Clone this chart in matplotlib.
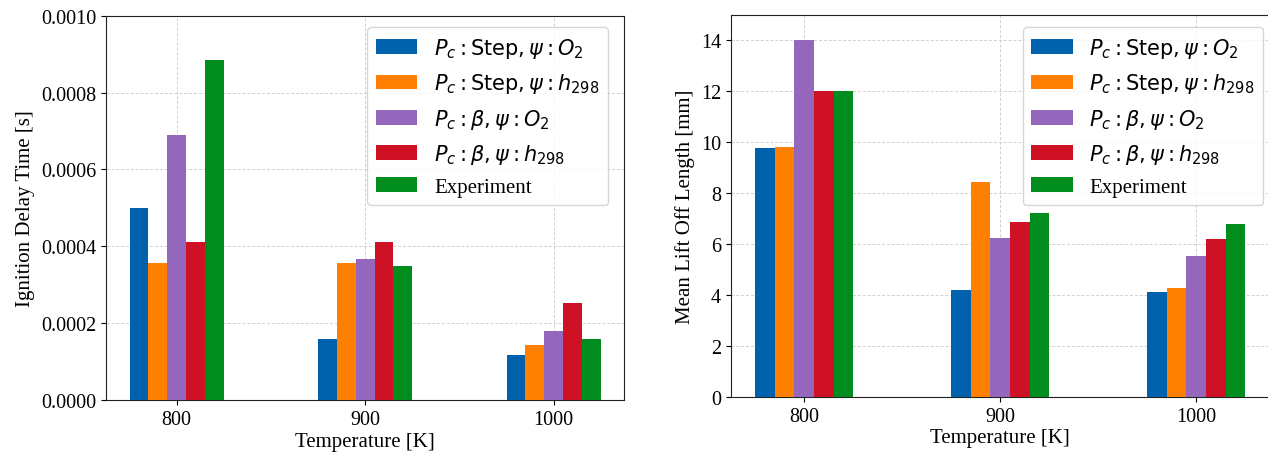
import numpy as np
import matplotlib
matplotlib.use('Agg')
import matplotlib.pyplot as plt

# Data
temperatures = [800, 900, 1000]
labels = [r'$P_c: \mathrm{Step}, \psi: O_2$',
          r'$P_c: \mathrm{Step}, \psi: h_{298}$',
          r'$P_c: \beta, \psi: O_2$',
          r'$P_c: \beta, \psi: h_{298}$',
          'Experiment']
colors = ['#0062AD', '#FF7F00', '#9467BD', '#CF1126', '#008C1F']

ignition_step_o2 = [0.000500, 0.000160, 0.000117]
ignition_step_h298 = [0.000357, 0.000357, 0.000143]
ignition_beta_o2 = [0.000689, 0.000368, 0.000180]
ignition_beta_h298 = [0.000411, 0.000411, 0.000252]
ignition_experiment = [0.000886, 0.000348, 0.000160]

liftoff_step_o2 = [9.76, 4.20, 4.14]
liftoff_step_h298 = [9.80, 8.46, 4.29]
liftoff_beta_o2 = [14.0, 6.26, 5.52]
liftoff_beta_h298 = [12.03, 6.87, 6.20]
liftoff_experiment = [12.03, 7.24, 6.80]

plt.rcParams['font.family'] = ['Liberation Serif', 'DejaVu Serif']
plt.rcParams['mathtext.fontset'] = 'dejavusans'


def draw_bars(ax, series, ylabel):
    """Grouped bars, five per temperature."""
    x = np.array(temperatures, dtype=float)
    width = 10
    offsets = [-20, -10, 0, 10, 20]
    for vals, off, col, lab in zip(series, offsets, colors, labels):
        ax.bar(x + off, vals, width=width, color=col, label=lab, zorder=3)
    ax.set_xticks(temperatures)
    ax.set_xlim(762.5, 1037.5)
    ax.grid(True, linestyle=(0, (3, 2)), color='#cfcfcf', linewidth=0.7, zorder=0)
    ax.set_axisbelow(True)
    ax.set_xlabel('Temperature [K]', fontsize=15, labelpad=2)
    ax.set_ylabel(ylabel, fontsize=15)
    ax.tick_params(labelsize=14.5)
    for s in ax.spines.values():
        s.set_color('#222222')


fig = plt.figure(figsize=(12.68, 4.56), dpi=100)

ax1 = fig.add_axes([0.0836, 0.1206, 0.4088, 0.8428])
draw_bars(ax1, [ignition_step_o2, ignition_step_h298, ignition_beta_o2,
                ignition_beta_h298, ignition_experiment],
          'Ignition Delay Time [s]')
ax1.set_ylim(0, 0.001)
ax1.set_yticks(np.arange(0, 0.00101, 0.0002))
ax1.yaxis.set_major_formatter(plt.FuncFormatter(lambda v, p: f'{v:.4f}'))

ax2 = fig.add_axes([0.5763, 0.1272, 0.4251, 0.8377])
draw_bars(ax2, [liftoff_step_o2, liftoff_step_h298, liftoff_beta_o2,
                liftoff_beta_h298, liftoff_experiment],
          'Mean Lift Off Length [mm]')
ax2.set_ylim(0, 15)
ax2.set_yticks(range(0, 15, 2))

for ax, anchor in [(ax1, (0.2897, 0.9379)), (ax2, (0.8065, 0.9379))]:
    ax.legend(loc='upper left', bbox_to_anchor=anchor,
              bbox_transform=fig.transFigure, borderaxespad=0,
              fontsize=15, handlelength=2.0, handletextpad=0.8,
              labelspacing=0.55, borderpad=0.4)

fig.savefig('out.png', dpi=100)
